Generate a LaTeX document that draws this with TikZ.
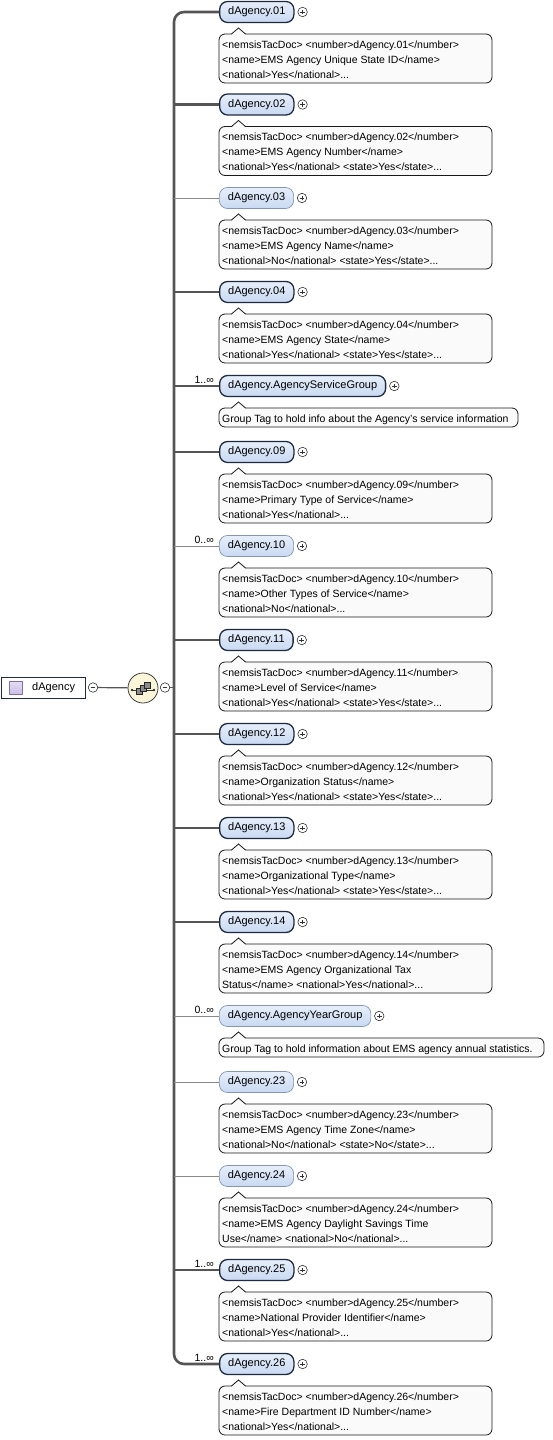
\documentclass[tikz,border=0pt]{standalone}
\usepackage{fontspec}
\setmainfont{Liberation Sans}
\definecolor{elemtop}{HTML}{E6EEFA}
\definecolor{elembot}{HTML}{C9D9F2}
\definecolor{mandborder}{HTML}{1E2A40}
\definecolor{optborder}{HTML}{8496B0}
\definecolor{connm}{HTML}{555555}
\definecolor{conno}{HTML}{8A8A8A}
\definecolor{callfillc}{HTML}{FAFAFA}
\definecolor{seqfill}{HTML}{FBF6DA}
\definecolor{iconfill}{HTML}{CBBDE8}
\definecolor{iconborder}{HTML}{7F70B0}
\tikzset{
  x=1pt, y=-1pt,
  mand/.style={draw=mandborder, line width=1.3pt, rounded corners=8pt, top color=elemtop, bottom color=elembot,
    minimum height=21pt, inner xsep=8.5pt, inner ysep=0pt, text height=8pt, text depth=2.3pt,
    font=\fontsize{11}{13}\selectfont, text=black},
  opt/.style={mand, draw=optborder, line width=0.7pt},
  mline/.style={draw=connm, line width=2.6pt},
  oline/.style={draw=conno, line width=0.8pt},
  pluscirc/.style={circle, draw=black!80, line width=0.6pt, fill=white, minimum size=9.5pt, inner sep=0pt,
    path picture={\draw[line width=0.6pt] ([xshift=-2.4pt]path picture bounding box.center) -- ([xshift=2.4pt]path picture bounding box.center)
      ([yshift=-2.4pt]path picture bounding box.center) -- ([yshift=2.4pt]path picture bounding box.center);}},
  minuscirc/.style={circle, draw=black!80, line width=0.6pt, fill=white, minimum size=9.5pt, inner sep=0pt,
    path picture={\draw[line width=0.6pt] ([xshift=-2.4pt]path picture bounding box.center) -- ([xshift=2.4pt]path picture bounding box.center);}},
  callbox/.style={draw=black!90, line width=0.8pt, fill=callfillc, rounded corners=6pt},
  ctext/.style={anchor=base west, inner sep=0pt, font=\fontsize{10.5}{15}\selectfont},
  multl/.style={anchor=base east, inner sep=0pt, font=\fontsize{10.5}{12}\selectfont},
}
\newcommand\xelem[4]{%
  \coordinate (b#1) at (174,#2);
  \node[#4, anchor=west] (e#1) at (219,#2) {#3};
  \node[pluscirc] (p#1) at ([xshift=8pt]e#1.east) {};
}
\newcommand\xcall[4]{%
  \pgfmathsetmacro\ctop{#2+22}
  \pgfmathsetmacro\cbot{#2+22+15*#4+4}
  \draw[callbox] (219,\ctop) rectangle (#3,\cbot);
  \fill[callfillc] (231.5,\ctop+0.8) -- (238.5,\ctop-6) -- (245.5,\ctop+0.8) -- cycle;
  \draw[black!90, line width=0.8pt] (231.5,\ctop) -- (238.5,\ctop-6) -- (245.5,\ctop);
}
\newcommand\xline[4]{%
  \node[ctext] (#1) at (222,{#2+36+15*#3}) {#4};
}
\begin{document}
\begin{tikzpicture}
\useasboundingbox[fill=white] (0,0) rectangle (552,1440);

% root
\node[draw=mandborder, line width=0.8pt, fill=white, anchor=west, minimum width=84pt, minimum height=21pt,
  inner sep=0pt] (root) at (1,687.5) {};
\node[draw=iconborder, line width=0.6pt, top color=iconfill!50, bottom color=iconfill, minimum size=13pt, inner sep=0pt] (icon) at (15.5,687.5) {};
\node[anchor=west, inner sep=0pt, font=\fontsize{11}{13}\selectfont] (rootlbl) at (32,687.5) {dAgency};
\node[minuscirc] (rminus) at (93,687.5) {};
\node[circle, draw=black!75, line width=0.8pt, fill=seqfill, minimum size=30pt, inner sep=0pt] (seq) at (143,688) {};
\node[minuscirc] (sminus) at (165,687.5) {};
\coordinate (bmid) at (174,687.5);
\draw[connm, line width=1.2pt] (rminus) -- (seq);
\draw[connm, line width=1.2pt] (sminus) -- (bmid);
% sequence glyph
\draw[black!80, line width=0.8pt] ([xshift=-11pt, yshift=-2pt]seq.center) -- ([xshift=11pt, yshift=-2pt]seq.center);
\fill[black!80] ([xshift=-11pt, yshift=-2pt]seq.center) circle (1.3pt) ([xshift=11pt, yshift=-2pt]seq.center) circle (1.3pt);
\foreach \dx/\dy in {-4/-3, 0/0, 4/3}
  \draw[black!85, fill=black!45, line width=0.5pt] ([xshift=\dx pt-3pt, yshift=\dy pt-3pt]seq.center) rectangle ([xshift=\dx pt+3pt, yshift=\dy pt+3pt]seq.center);

% elements
\xelem{01}{12}{dAgency.01}{mand}
\xelem{02}{104.5}{dAgency.02}{mand}
\xelem{03}{198}{dAgency.03}{opt}
\xelem{04}{292}{dAgency.04}{mand}
\xelem{ASG}{386}{dAgency.AgencyServiceGroup}{mand}
\xelem{09}{452}{dAgency.09}{mand}
\xelem{10}{546}{dAgency.10}{opt}
\xelem{11}{640}{dAgency.11}{mand}
\xelem{12}{734}{dAgency.12}{mand}
\xelem{13}{828}{dAgency.13}{mand}
\xelem{14}{922}{dAgency.14}{mand}
\xelem{AYG}{1016}{dAgency.AgencyYearGroup}{opt}
\xelem{23}{1082}{dAgency.23}{opt}
\xelem{24}{1176}{dAgency.24}{opt}
\xelem{25}{1270}{dAgency.25}{mand}
\xelem{26}{1364}{dAgency.26}{mand}

% bar and connectors
\draw[mline, rounded corners=10pt] (e01.west) -- (b01) -- (b26) -- (e26.west);
\foreach \n/\s in {02/mline, 03/oline, 04/mline, ASG/mline, 09/mline, 10/oline, 11/mline, 12/mline, 13/mline, 14/mline, AYG/oline, 23/oline, 24/oline, 25/mline}
  \draw[\s] (b\n) -- (e\n.west);

% multiplicities
\node[multl] (mASG) at (214,383) {1..∞};
\node[multl] (m10) at (214,543) {0..∞};
\node[multl] (mAYG) at (214,1013) {0..∞};
\node[multl] (m25) at (214,1267) {1..∞};
\node[multl] (m26) at (214,1361) {1..∞};

% comments
\xcall{01}{12}{492}{3}
\xline{c01a}{12}{0}{<nemsisTacDoc> <number>dAgency.01</number>}
\xline{c01b}{12}{1}{<name>EMS Agency Unique State ID</name>}
\xline{c01c}{12}{2}{<national>Yes</national>...}

\xcall{02}{104.5}{492}{3}
\xline{c02a}{104.5}{0}{<nemsisTacDoc> <number>dAgency.02</number>}
\xline{c02b}{104.5}{1}{<name>EMS Agency Number</name>}
\xline{c02c}{104.5}{2}{<national>Yes</national> <state>Yes</state>...}

\xcall{03}{198}{492}{3}
\xline{c03a}{198}{0}{<nemsisTacDoc> <number>dAgency.03</number>}
\xline{c03b}{198}{1}{<name>EMS Agency Name</name>}
\xline{c03c}{198}{2}{<national>No</national> <state>Yes</state>...}

\xcall{04}{292}{492}{3}
\xline{c04a}{292}{0}{<nemsisTacDoc> <number>dAgency.04</number>}
\xline{c04b}{292}{1}{<name>EMS Agency State</name>}
\xline{c04c}{292}{2}{<national>Yes</national> <state>Yes</state>...}

\xcall{ASG}{386}{518}{1}
\xline{cASGa}{386}{0}{Group Tag to hold info about the Agency's service information}

\xcall{09}{452}{492}{3}
\xline{c09a}{452}{0}{<nemsisTacDoc> <number>dAgency.09</number>}
\xline{c09b}{452}{1}{<name>Primary Type of Service</name>}
\xline{c09c}{452}{2}{<national>Yes</national>...}

\xcall{10}{546}{492}{3}
\xline{c10a}{546}{0}{<nemsisTacDoc> <number>dAgency.10</number>}
\xline{c10b}{546}{1}{<name>Other Types of Service</name>}
\xline{c10c}{546}{2}{<national>No</national>...}

\xcall{11}{640}{492}{3}
\xline{c11a}{640}{0}{<nemsisTacDoc> <number>dAgency.11</number>}
\xline{c11b}{640}{1}{<name>Level of Service</name>}
\xline{c11c}{640}{2}{<national>Yes</national> <state>Yes</state>...}

\xcall{12}{734}{492}{3}
\xline{c12a}{734}{0}{<nemsisTacDoc> <number>dAgency.12</number>}
\xline{c12b}{734}{1}{<name>Organization Status</name>}
\xline{c12c}{734}{2}{<national>Yes</national> <state>Yes</state>...}

\xcall{13}{828}{492}{3}
\xline{c13a}{828}{0}{<nemsisTacDoc> <number>dAgency.13</number>}
\xline{c13b}{828}{1}{<name>Organizational Type</name>}
\xline{c13c}{828}{2}{<national>Yes</national> <state>Yes</state>...}

\xcall{14}{922}{492}{3}
\xline{c14a}{922}{0}{<nemsisTacDoc> <number>dAgency.14</number>}
\xline{c14b}{922}{1}{<name>EMS Agency Organizational Tax}
\xline{c14c}{922}{2}{Status</name> <national>Yes</national>...}

\xcall{AYG}{1016}{544}{1}
\xline{cAYGa}{1016}{0}{Group Tag to hold information about EMS agency annual statistics.}

\xcall{23}{1082}{492}{3}
\xline{c23a}{1082}{0}{<nemsisTacDoc> <number>dAgency.23</number>}
\xline{c23b}{1082}{1}{<name>EMS Agency Time Zone</name>}
\xline{c23c}{1082}{2}{<national>No</national> <state>No</state>...}

\xcall{24}{1176}{492}{3}
\xline{c24a}{1176}{0}{<nemsisTacDoc> <number>dAgency.24</number>}
\xline{c24b}{1176}{1}{<name>EMS Agency Daylight Savings Time}
\xline{c24c}{1176}{2}{Use</name> <national>No</national>...}

\xcall{25}{1270}{492}{3}
\xline{c25a}{1270}{0}{<nemsisTacDoc> <number>dAgency.25</number>}
\xline{c25b}{1270}{1}{<name>National Provider Identifier</name>}
\xline{c25c}{1270}{2}{<national>Yes</national>...}

\xcall{26}{1364}{492}{3}
\xline{c26a}{1364}{0}{<nemsisTacDoc> <number>dAgency.26</number>}
\xline{c26b}{1364}{1}{<name>Fire Department ID Number</name>}
\xline{c26c}{1364}{2}{<national>Yes</national>...}
\end{tikzpicture}
\end{document}
